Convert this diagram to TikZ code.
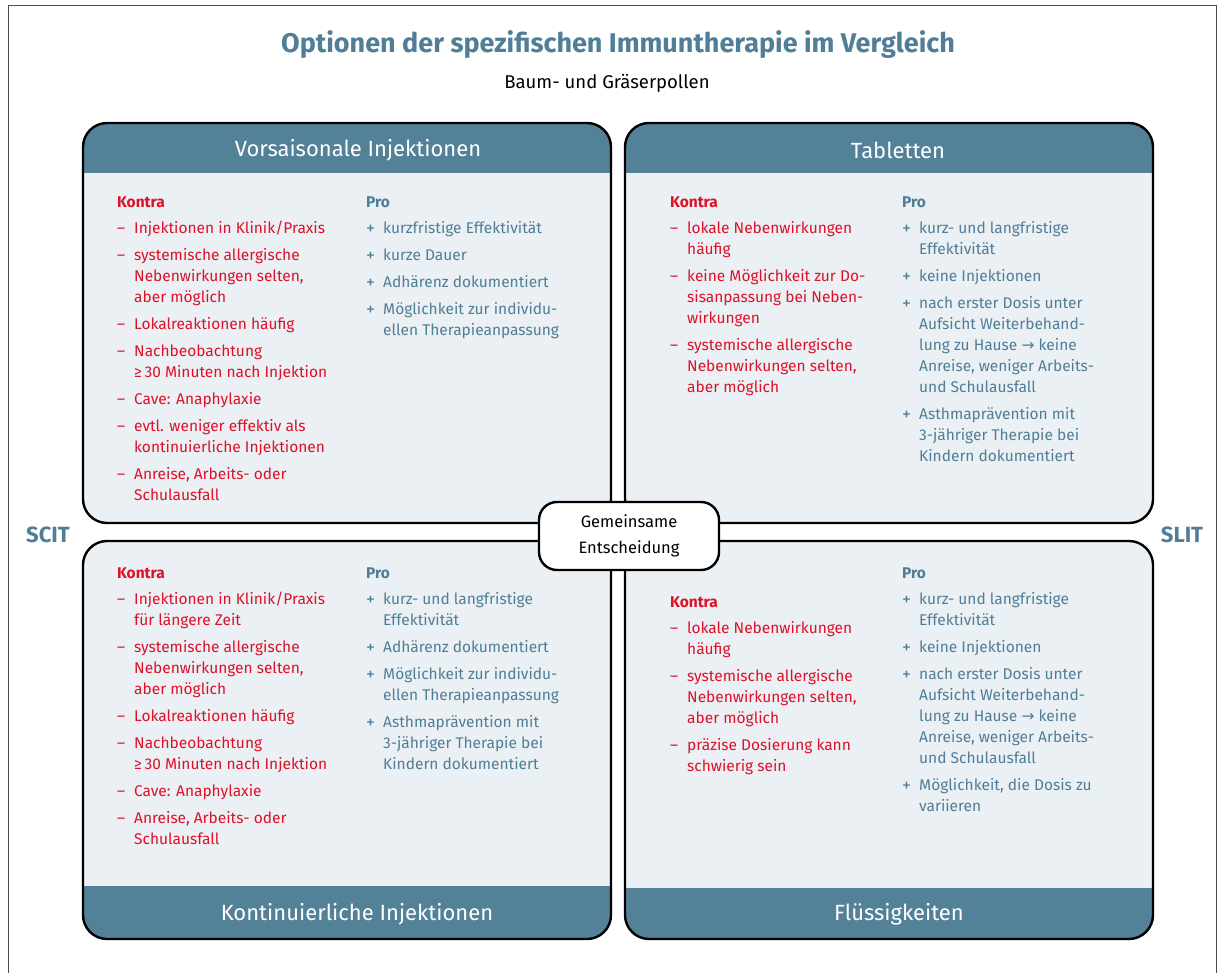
\documentclass[tikz,border=0pt]{standalone}
\usepackage{fontspec}
\setmainfont{Fira Sans}
\newfontfamily\symf{DejaVu Sans}
\usepackage{array}
\definecolor{headblue}{RGB}{82,129,152}
\definecolor{bodybg}{RGB}{235,240,244}
\definecolor{kred}{RGB}{222,17,40}
\definecolor{problue}{RGB}{80,126,150}
\newcommand{\arr}{{\symf →}}
\newcommand{\pl}{\raisebox{-0.6pt}{\fontsize{18}{21}\selectfont +}}
\tikzset{
  panel/.style={draw=black, line width=2.4pt, rounded corners=24pt, fill=bodybg,
    minimum width=528pt, minimum height=400pt, inner sep=0pt},
  headpanel/.style={panel, path picture={\fill[headblue, sharp corners] (path picture bounding box.north west) rectangle ([yshift=-50pt]path picture bounding box.north east);}},
  footpanel/.style={panel, path picture={\fill[headblue, sharp corners] (path picture bounding box.south west) rectangle ([yshift=#1]path picture bounding box.south east);}},
  bandtext/.style={text=white, font=\fontsize{22}{26}\selectfont, inner sep=0pt},
  kcol/.style={anchor=north west, inner sep=0pt, text=kred, font=\fontsize{15.5}{21}\selectfont},
  pcol/.style={anchor=north west, inner sep=0pt, text=problue, font=\fontsize{15.5}{21}\selectfont},
  sidelab/.style={text=problue, font=\fontsize{22}{26}\selectfont\bfseries},
  center/.style={draw=black, line width=2.4pt, rounded corners=18pt, fill=white,
    minimum width=180pt, minimum height=68pt, align=center, font=\fontsize{16.5}{26}\selectfont},
}
\newcolumntype{M}{@{}p{17pt}@{}}
\begin{document}
\begin{tikzpicture}[x=1pt,y=-1pt]
\useasboundingbox (0,0) rectangle (1218,973);
\fill[white] (0,0) rectangle (1218,973);
\draw[gray!60!black, line width=1pt] (8,990) -- (8,6) -- (1216,6) -- (1216,990);

\node[text=problue, font=\fontsize{27}{31}\selectfont\bfseries] (title) at (618,45) {Optionen der spezifischen Immuntherapie im Vergleich};
\node[font=\fontsize{18.5}{22}\selectfont] (sub) at (607,83) {Baum- und Gräserpollen};

\node[headpanel] (tl) at (347,323) {};
\node[headpanel] (tr) at (889,323) {};
\node[footpanel=53pt, minimum height=398pt] (bl) at (347,740) {};
\node[footpanel=51pt, minimum height=398pt] (br) at (889,740) {};

\node[bandtext] (tlh) at (358,150) {Vorsaisonale Injektionen};
\node[bandtext] (trh) at (898,150) {Tabletten};
\node[bandtext] (blh) at (357,914) {Kontinuierliche Injektionen};
\node[bandtext] (brh) at (899,914) {Flüssigkeiten};

\node[sidelab] (scit) at (48,535) {SCIT};
\node[sidelab] (slit) at (1182,535) {SLIT};

% TL Kontra
\node[kcol] (tlk) at (117,193) {\begin{tabular}{Ml@{}}
\multicolumn{2}{@{}l@{}}{\bfseries Kontra}\\[5pt]
– & Injektionen in Klinik/Praxis\\[6pt]
– & systemische allergische\\
  & Nebenwirkungen selten,\\
  & aber möglich\\[6pt]
– & Lokalreaktionen häufig\\[6pt]
– & Nachbeobachtung\\
  & ≥\,30 Minuten nach Injektion\\[6pt]
– & Cave: Anaphylaxie\\[6pt]
– & evtl. weniger effektiv als\\
  & kontinuierliche Injektionen\\[6pt]
– & Anreise, Arbeits- oder\\
  & Schulausfall
\end{tabular}};
% TL Pro
\node[pcol] (tlp) at (366,193) {\begin{tabular}{Ml@{}}
\multicolumn{2}{@{}l@{}}{\bfseries Pro}\\[5pt]
\pl & kurzfristige Effektivität\\[6pt]
\pl & kurze Dauer\\[6pt]
\pl & Adhärenz dokumentiert\\[6pt]
\pl & Möglichkeit zur individu-\\
  & ellen Therapieanpassung
\end{tabular}};
% TR Kontra
\node[kcol] (trk) at (670,193) {\begin{tabular}{Ml@{}}
\multicolumn{2}{@{}l@{}}{\bfseries Kontra}\\[5pt]
– & lokale Nebenwirkungen\\
  & häufig\\[6pt]
– & keine Möglichkeit zur Do-\\
  & sisanpassung bei Neben-\\
  & wirkungen\\[6pt]
– & systemische allergische\\
  & Nebenwirkungen selten,\\
  & aber möglich
\end{tabular}};
% TR Pro
\node[pcol] (trp) at (902,193) {\begin{tabular}{Ml@{}}
\multicolumn{2}{@{}l@{}}{\bfseries Pro}\\[5pt]
\pl & kurz- und langfristige\\
  & Effektivität\\[6pt]
\pl & keine Injektionen\\[6pt]
\pl & nach erster Dosis unter\\
  & Aufsicht Weiterbehand-\\
  & lung zu Hause \arr{} keine\\
  & Anreise, weniger Arbeits-\\
  & und Schulausfall\\[6pt]
\pl & Asthmaprävention mit\\
  & 3-jähriger Therapie bei\\
  & Kindern dokumentiert
\end{tabular}};
% BL Kontra
\node[kcol] (blk) at (117,564) {\begin{tabular}{Ml@{}}
\multicolumn{2}{@{}l@{}}{\bfseries Kontra}\\[5pt]
– & Injektionen in Klinik/Praxis\\
  & für längere Zeit\\[6pt]
– & systemische allergische\\
  & Nebenwirkungen selten,\\
  & aber möglich\\[6pt]
– & Lokalreaktionen häufig\\[6pt]
– & Nachbeobachtung\\
  & ≥\,30 Minuten nach Injektion\\[6pt]
– & Cave: Anaphylaxie\\[6pt]
– & Anreise, Arbeits- oder\\
  & Schulausfall
\end{tabular}};
% BL Pro
\node[pcol] (blp) at (366,564) {\begin{tabular}{Ml@{}}
\multicolumn{2}{@{}l@{}}{\bfseries Pro}\\[5pt]
\pl & kurz- und langfristige\\
  & Effektivität\\[6pt]
\pl & Adhärenz dokumentiert\\[6pt]
\pl & Möglichkeit zur individu-\\
  & ellen Therapieanpassung\\[6pt]
\pl & Asthmaprävention mit\\
  & 3-jähriger Therapie bei\\
  & Kindern dokumentiert
\end{tabular}};
% BR Kontra
\node[kcol] (brk) at (670,593) {\begin{tabular}{Ml@{}}
\multicolumn{2}{@{}l@{}}{\bfseries Kontra}\\[5pt]
– & lokale Nebenwirkungen\\
  & häufig\\[6pt]
– & systemische allergische\\
  & Nebenwirkungen selten,\\
  & aber möglich\\[6pt]
– & präzise Dosierung kann\\
  & schwierig sein
\end{tabular}};
% BR Pro
\node[pcol] (brp) at (902,564) {\begin{tabular}{Ml@{}}
\multicolumn{2}{@{}l@{}}{\bfseries Pro}\\[5pt]
\pl & kurz- und langfristige\\
  & Effektivität\\[6pt]
\pl & keine Injektionen\\[6pt]
\pl & nach erster Dosis unter\\
  & Aufsicht Weiterbehand-\\
  & lung zu Hause \arr{} keine\\
  & Anreise, weniger Arbeits-\\
  & und Schulausfall\\[6pt]
\pl & Möglichkeit, die Dosis zu\\
  & variieren
\end{tabular}};

\node[center] (mid) at (629,536) {Gemeinsame\\Entscheidung};
\end{tikzpicture}
\end{document}
